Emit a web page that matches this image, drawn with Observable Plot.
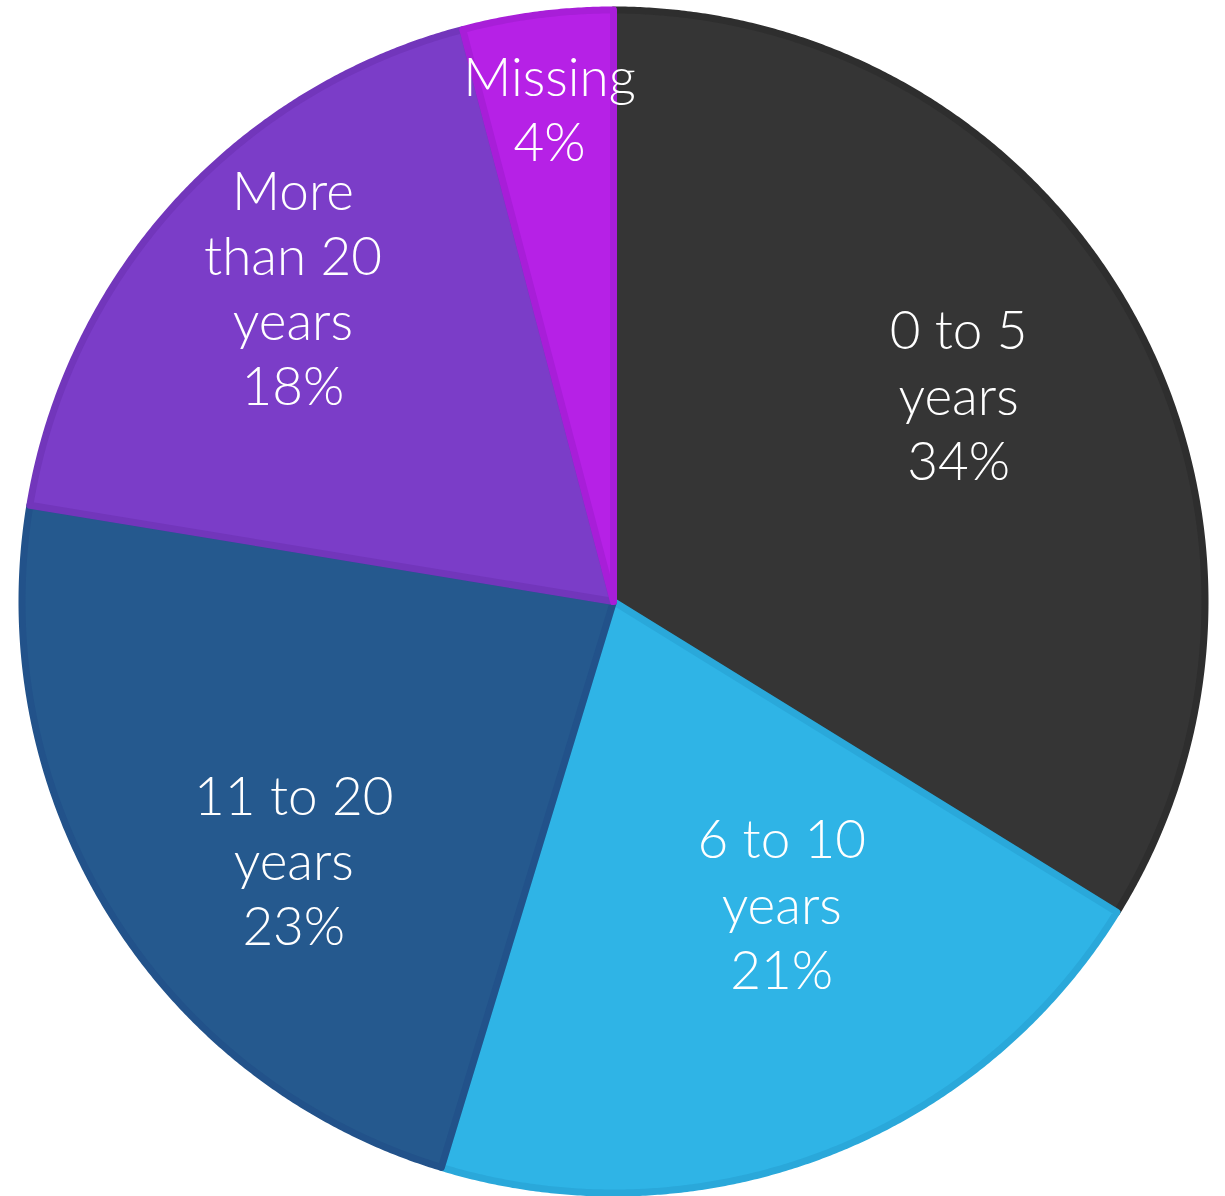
<!DOCTYPE html>
<html><head><meta charset="utf-8">
<script src="https://cdn.jsdelivr.net/npm/d3@7"></script>
<script src="https://cdn.jsdelivr.net/npm/@observablehq/plot@0.6"></script>
<style>html,body{margin:0;padding:0;background:#fff}svg{display:block}</style>
</head><body><div id="chart"></div>
<script>
const categories = ["0 to 5 years", "6 to 10 years", "11 to 20 years", "More than 20 years", "Missing"];
const labelLines = [["0 to 5", "years"], ["6 to 10", "years"], ["11 to 20", "years"], ["More", "than 20", "years"], ["Missing"]];
const values = [33.8, 20.9, 22.9, 18.3, 4.1];
const fills = ["#353535", "#2fb4e6", "#25598e", "#7b3dc8", "#b621e6"];
const borders = ["#2e2e2e", "#2aa8da", "#22528a", "#7236bb", "#a81ed8"];

const W = 1225, H = 1196, CX = 613, CY = 601, R = 595;
const labelR = {"0 to 5 years": 0.677, "6 to 10 years": 0.58, "11 to 20 years": 0.69, "More than 20 years": 0.755, "Missing": 0.837};
const labelShift = {"0 to 5 years": -0.033, "6 to 10 years": -0.148, "11 to 20 years": -0.122, "More than 20 years": 0.038};

const pie = d3.pie().sort(null).value(d => d.value);
const arcs = pie(categories.map((c, i) => ({category: c, value: values[i], i})));

const rr = 1 - 3.5 / R;
const poly = [];
for (const a of arcs) {
  poly.push({category: a.data.category, x: 0, y: 0});
  const n = Math.max(2, Math.ceil((a.endAngle - a.startAngle) / 0.005));
  for (let k = 0; k <= n; k++) {
    const t = a.startAngle + (a.endAngle - a.startAngle) * k / n;
    poly.push({category: a.data.category, x: rr * Math.sin(t), y: rr * Math.cos(t)});
  }
  poly.push({category: a.data.category, x: 0, y: 0});
}
const labels = arcs.map(a => {
  const c = a.data.category;
  const m = (a.startAngle + a.endAngle) / 2 + (labelShift[c] || 0);
  const r = labelR[c];
  return {category: c, x: r * Math.sin(m), y: r * Math.cos(m),
          text: [...labelLines[a.data.i], Math.round(values[a.data.i]) + "%"].join("\n")};
});

const chart = Plot.plot({
  width: W, height: H, margin: 0,
  x: {domain: [-CX / R, (W - CX) / R], axis: null},
  y: {domain: [-(H - CY) / R, CY / R], axis: null},
  color: {domain: categories, range: fills},
  marks: [
    Plot.line(poly, {x: "x", y: "y", z: "category", fill: "category",
      stroke: d => borders[categories.indexOf(d.category)], strokeWidth: 7, strokeLinejoin: "round", curve: "linear"}),
    Plot.text(labels, {x: "x", y: "y", text: "text", fill: "white", fontSize: 53, lineHeight: 1.23,
      fontFamily: "Lato, 'Open Sans', sans-serif", fontWeight: 300})
  ]
});
document.getElementById("chart").append(chart);
</script></body></html>
